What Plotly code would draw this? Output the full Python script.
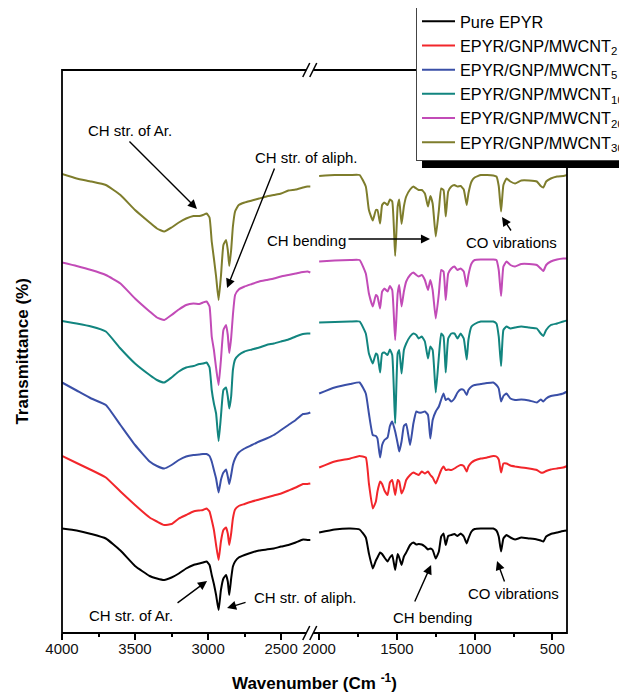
import plotly.graph_objects as go

# ---------------- data ----------------
series_names = ["Pure EPYR", "EPYR/GNP/MWCNT<sub>2</sub>", "EPYR/GNP/MWCNT<sub>5</sub>",
                "EPYR/GNP/MWCNT<sub>10</sub>", "EPYR/GNP/MWCNT<sub>20</sub>", "EPYR/GNP/MWCNT<sub>30</sub>"]
series_colors = ["#000000", "#F2262B", "#3A4FA7", "#12857F", "#C24BB7", "#7E7D2C"]

wn_left = [4000, 3900, 3800, 3700, 3600, 3500, 3400, 3350, 3300, 3250, 3200, 3150, 3100, 3060,
           3035, 3010, 2990, 2975, 2960, 2945, 2928, 2912, 2895, 2877, 2865, 2855, 2842, 2830,
           2815, 2790, 2750, 2700, 2650, 2600, 2550, 2500, 2450, 2400, 2350, 2320, 2300]

wn_right = [2000, 1900, 1800, 1740, 1700, 1680, 1655, 1635, 1625, 1608,
            1595, 1580, 1560, 1545, 1530, 1511, 1495, 1485, 1470, 1455,
            1440, 1415, 1394, 1375, 1360, 1340, 1320, 1300, 1285, 1270,
            1250, 1230, 1215, 1200, 1186, 1170, 1150, 1130, 1110, 1090,
            1070, 1051, 1040, 1020, 1000, 960, 920, 880, 860, 845,
            830, 815, 795, 770, 740, 700, 650, 600, 575, 558,
            540, 510, 470, 430, 405]

t_left_pure = [20.9, 20.5, 19.8, 18.9, 16.5, 13.4, 11.4, 10.9, 10.6, 11.1, 11.9, 12.9, 13.6, 13.9,
               14.1, 14.3, 13.6, 11.6, 9.8, 7.6, 4.6, 8.6, 10.9, 11.6, 10.3, 7.6, 10.9, 13.3,
               14.3, 15.1, 15.6, 16.1, 16.5, 16.7, 16.9, 17.3, 17.6, 18.1, 18.7, 18.6, 18.6]
t_left_2 = [35.4, 34.0, 32.6, 31.1, 28.3, 25.6, 23.1, 22.3, 21.6, 21.8, 22.9, 23.6, 24.3, 24.5,
            24.6, 24.9, 24.3, 22.6, 20.6, 17.6, 14.6, 18.3, 20.6, 21.1, 19.9, 17.6, 19.9, 22.9,
            24.7, 25.4, 25.8, 26.3, 26.7, 27.1, 27.5, 27.9, 28.5, 29.1, 29.8, 29.8, 29.9]
t_left_5 = [50.1, 48.5, 46.9, 45.6, 41.6, 37.6, 34.3, 33.4, 32.9, 33.6, 34.6, 35.3, 35.6, 35.7,
            35.8, 35.8, 35.4, 34.3, 32.6, 30.9, 28.1, 30.6, 32.1, 32.7, 31.3, 29.8, 31.6, 33.6,
            34.9, 36.1, 36.9, 37.6, 38.3, 38.9, 39.6, 40.6, 41.6, 42.6, 43.8, 43.9, 44.1]
t_left_10 = [62.4, 61.9, 61.3, 60.3, 56.9, 53.9, 51.6, 50.6, 50.1, 51.1, 52.3, 53.1, 53.4, 53.8,
             53.9, 54.1, 53.1, 48.6, 45.9, 43.9, 38.4, 43.3, 48.6, 49.1, 47.3, 44.9, 47.3, 52.6,
             54.7, 55.6, 56.3, 56.7, 57.1, 57.6, 57.9, 58.3, 58.7, 59.3, 59.8, 59.9, 59.9]
t_left_20 = [74.1, 73.4, 72.6, 71.6, 69.9, 66.9, 64.3, 63.1, 62.6, 63.6, 64.7, 65.6, 65.9, 65.8,
             66.1, 66.3, 65.3, 59.3, 56.6, 53.0, 49.6, 54.6, 60.6, 61.6, 59.6, 56.0, 59.0, 63.6,
             67.6, 68.7, 69.3, 69.8, 70.3, 70.6, 70.9, 71.3, 71.6, 71.9, 72.2, 72.3, 72.1]
t_left_30 = [91.8, 90.9, 90.3, 89.6, 87.6, 84.6, 82.1, 80.9, 80.3, 81.1, 82.1, 82.9, 83.4, 83.4,
             83.6, 83.9, 83.1, 78.3, 74.9, 71.3, 66.6, 71.3, 77.6, 78.6, 76.6, 73.4, 76.6, 81.3,
             84.3, 85.6, 86.1, 86.5, 86.9, 87.3, 87.6, 87.9, 88.5, 88.7, 89.1, 89.3, 89.3]

t_right_pure = [20.1, 20.7, 20.9, 20.7, 19.1, 15.9, 12.9, 14.5, 15.1, 16.1,
                15.8, 15.1, 14.3, 15.1, 15.6, 12.6, 15.8, 15.1, 13.6, 15.3,
                16.1, 17.6, 18.1, 17.7, 17.8, 17.7, 17.3, 16.7, 16.9, 16.6,
                14.9, 16.3, 19.3, 19.9, 17.6, 19.4, 19.6, 19.8, 19.4, 19.9,
                19.3, 17.9, 18.9, 20.3, 20.8, 20.9, 20.9, 20.9, 20.5, 19.3,
                16.3, 18.9, 19.6, 19.1, 18.7, 19.1, 18.9, 18.7, 18.5, 18.3,
                19.3, 19.8, 20.1, 20.4, 20.5]
t_right_2 = [33.1, 34.3, 34.9, 35.4, 35.1, 29.9, 24.9, 26.3, 28.3, 30.3,
             29.8, 28.5, 27.6, 30.1, 30.6, 27.6, 30.6, 30.3, 27.9, 28.9,
             30.6, 31.6, 32.1, 31.8, 31.6, 32.3, 31.9, 32.3, 31.6, 31.1,
             29.9, 31.4, 32.6, 33.3, 32.6, 32.7, 32.6, 32.9, 33.3, 33.6,
             33.4, 32.3, 33.3, 34.1, 34.5, 34.9, 35.1, 35.4, 35.3, 34.7,
             32.1, 33.9, 33.9, 33.5, 33.3, 33.1, 32.9, 32.6, 32.1, 32.1,
             32.4, 32.7, 32.9, 33.1, 33.4]
t_right_5 = [47.9, 49.1, 49.8, 50.1, 47.9, 43.9, 39.6, 39.4, 38.9, 35.1,
             37.6, 38.6, 39.1, 41.4, 42.3, 40.3, 37.9, 36.3, 38.3, 41.4,
             41.8, 37.6, 41.9, 44.3, 44.1, 44.1, 44.3, 43.6, 38.9, 42.6,
             44.3, 45.3, 46.7, 47.9, 46.6, 46.9, 46.3, 46.9, 48.1, 48.7,
             48.6, 47.6, 48.6, 49.3, 49.6, 49.8, 50.0, 50.1, 49.6, 48.9,
             46.3, 47.4, 47.9, 46.9, 46.6, 46.7, 46.5, 46.1, 46.7, 46.3,
             46.9, 47.4, 47.6, 47.9, 48.3]
t_right_10 = [62.1, 62.2, 62.3, 62.3, 59.9, 55.9, 53.9, 55.9, 55.6, 52.1,
              55.9, 56.1, 55.6, 56.7, 55.6, 41.9, 55.9, 56.6, 51.9, 56.6,
              57.9, 59.3, 59.9, 59.6, 58.9, 59.3, 58.3, 54.9, 57.3, 56.6,
              48.1, 55.3, 59.9, 59.3, 52.1, 58.9, 59.9, 59.9, 58.9, 59.9,
              58.9, 54.7, 58.6, 61.3, 61.8, 62.3, 62.3, 62.3, 61.9, 59.3,
              53.4, 60.6, 61.3, 60.9, 61.1, 61.3, 61.1, 60.9, 59.9, 59.4,
              60.6, 61.6, 61.9, 62.3, 62.5]
t_right_20 = [74.3, 74.5, 74.6, 74.6, 71.9, 67.9, 65.3, 67.6, 67.3, 64.9,
              68.3, 68.9, 68.3, 69.4, 68.6, 58.6, 67.9, 69.6, 65.3, 68.3,
              70.3, 71.6, 72.1, 71.6, 71.3, 71.6, 70.6, 68.6, 70.6, 68.6,
              62.9, 67.9, 72.6, 72.3, 66.6, 71.9, 72.9, 73.3, 72.6, 72.9,
              72.3, 69.3, 71.6, 73.9, 74.6, 74.7, 74.7, 74.7, 74.6, 72.6,
              67.4, 73.3, 74.3, 73.6, 73.3, 73.8, 73.8, 73.6, 72.9, 72.4,
              73.6, 74.3, 74.7, 74.9, 74.9]
t_right_30 = [91.4, 91.6, 91.6, 91.6, 89.3, 84.6, 82.5, 84.6, 84.6, 81.9,
              85.6, 86.1, 85.6, 86.7, 86.3, 75.4, 85.3, 86.7, 81.8, 85.3,
              87.3, 88.7, 89.3, 88.9, 88.6, 88.6, 87.9, 85.3, 87.4, 85.9,
              79.3, 84.6, 88.9, 88.6, 83.3, 88.3, 89.3, 89.6, 89.3, 89.4,
              88.7, 85.6, 87.9, 90.3, 91.1, 91.6, 91.6, 91.5, 91.3, 89.4,
              84.3, 89.6, 90.9, 90.3, 89.9, 90.5, 90.5, 90.3, 89.4, 89.1,
              90.3, 90.9, 91.3, 91.4, 91.6]

left_values = [t_left_pure, t_left_2, t_left_5, t_left_10, t_left_20, t_left_30]
right_values = [t_right_pure, t_right_2, t_right_5, t_right_10, t_right_20, t_right_30]

left_ticks = [4000, 3500, 3000, 2500]
left_minor = [3750, 3250, 2750]
right_ticks = [2000, 1500, 1000, 500]
right_minor = [1750, 1250, 750]

# ---------------- figure ----------------
FONT = "Arial, Liberation Sans, sans-serif"
fig = go.Figure()
for name, col, yl, yr in zip(series_names, series_colors, left_values, right_values):
    fig.add_trace(go.Scatter(x=wn_left, y=yl, mode="lines", name=name, legendgroup=name,
                             line=dict(color=col, width=2, shape="spline", smoothing=0.4),
                             xaxis="x", yaxis="y"))
    fig.add_trace(go.Scatter(x=wn_right, y=yr, mode="lines", name=name, legendgroup=name,
                             showlegend=False,
                             line=dict(color=col, width=2, shape="spline", smoothing=0.4),
                             xaxis="x2", yaxis="y"))

D = 0.4975
axis_common = dict(ticks="outside", ticklen=6, tickwidth=1.5, tickcolor="black",
                   showline=False, showgrid=False, zeroline=False, ticklabelstandoff=-4,
                   tickfont=dict(family=FONT, size=15, color="#111"), anchor="y")
fig.update_layout(
    width=619, height=685,
    margin=dict(l=54, r=60, t=62, b=60, autoexpand=False),
    paper_bgcolor="white", plot_bgcolor="white",
    xaxis=dict(domain=[0, D], range=[4000, 2280], tickvals=left_ticks,
               minor=dict(tickvals=left_minor, ticks="outside", ticklen=3, tickwidth=1.5,
                          tickcolor="black"), **axis_common),
    xaxis2=dict(domain=[D, 1], range=[2038, 406], tickvals=right_ticks,
                minor=dict(tickvals=right_minor, ticks="outside", ticklen=3, tickwidth=1.5,
                           tickcolor="black"), **axis_common),
    yaxis=dict(range=[0, 112.6], showticklabels=False, ticks="", showgrid=False,
               zeroline=False, showline=False),
    showlegend=True,
    legend=dict(x=0.701, y=1.1187, xanchor="left", yanchor="top", bgcolor="white",
                bordercolor="#444", borderwidth=1, tracegroupgap=0, itemwidth=33,
                font=dict(family=FONT, size=16.3, color="black")),
)

shapes = [
    # legend shadow
    dict(type="rect", xref="paper", yref="paper", x0=0.7129, x1=1.2, y0=0.826, y1=1.105,
         fillcolor="black", line=dict(width=0), layer="above"),
    # frame
    dict(type="rect", xref="paper", yref="paper", x0=0, x1=1, y0=0, y1=1,
         line=dict(color="black", width=1.8), layer="above"),
]
for ya in (0, 1):
    shapes.append(dict(type="rect", xref="paper", yref="paper", xsizemode="pixel",
                       ysizemode="pixel", xanchor=D, yanchor=ya, x0=-7, x1=0, y0=-3, y1=3,
                       fillcolor="white", line=dict(width=0), layer="above"))
    for cx in (-7, 0):
        shapes.append(dict(type="line", xref="paper", yref="paper", xsizemode="pixel",
                           ysizemode="pixel", xanchor=D, yanchor=ya,
                           x0=cx - 3.5, x1=cx + 3.5, y0=-7, y1=7,
                           line=dict(color="black", width=1.5), layer="above"))
fig.update_layout(shapes=shapes)

ann_font = dict(family=FONT, size=15, color="black")
texts = [
    ("CH str. of Ar.", "x", 3534, 100.6),
    ("CH str. of aliph.", "x", 2323, 95.2),
    ("CH bending", "x", 2329, 78.6),
    ("CO vibrations", "x2", 766, 78.2),
    ("CH str. of Ar.", "x", 3528, 3.6),
    ("CH str. of aliph.", "x", 2336, 7.2),
    ("CH bending", "x2", 1274, 3.2),
    ("CO vibrations", "x2", 753, 8.0),
]
arrows = [
    ("x", 3076, 84.8, -69, -69),
    ("x", 2870, 69.0, 48, -121),
    ("x2", 1287, 78.8, -83, 0),
    ("x2", 824, 83.2, 10, 15),
    ("x", 3007, 10.4, -31, 23),
    ("x", 2870, 5.0, 20, -6),
    ("x2", 1280, 13.6, -17, 38),
    ("x2", 856, 14.4, 8, 22),
]
anns = []
for t, xr, xv, yv in texts:
    anns.append(dict(text=t, xref=xr, yref="y", x=xv, y=yv, showarrow=False, font=ann_font,
                     xanchor="center", yanchor="middle"))
for xr, xv, yv, ax, ay in arrows:
    anns.append(dict(text="", xref=xr, yref="y", x=xv, y=yv, showarrow=True, ax=ax, ay=ay,
                     arrowhead=2, arrowsize=1.3, arrowwidth=1.4, arrowcolor="black"))
anns.append(dict(text="<b>Wavenumber (Cm <sup>-1</sup>)</b>", xref="paper", yref="paper",
                 x=0.5, y=-0.087, showarrow=False, xanchor="center", yanchor="middle",
                 font=dict(family=FONT, size=17, color="black")))
anns.append(dict(text="<b>Transmittance (%)</b>", xref="paper", yref="paper",
                 x=-0.079, y=0.5, showarrow=False, textangle=-90, xanchor="center",
                 yanchor="middle", font=dict(family=FONT, size=17, color="black")))
fig.update_layout(annotations=anns)

fig.write_html("out.html")
